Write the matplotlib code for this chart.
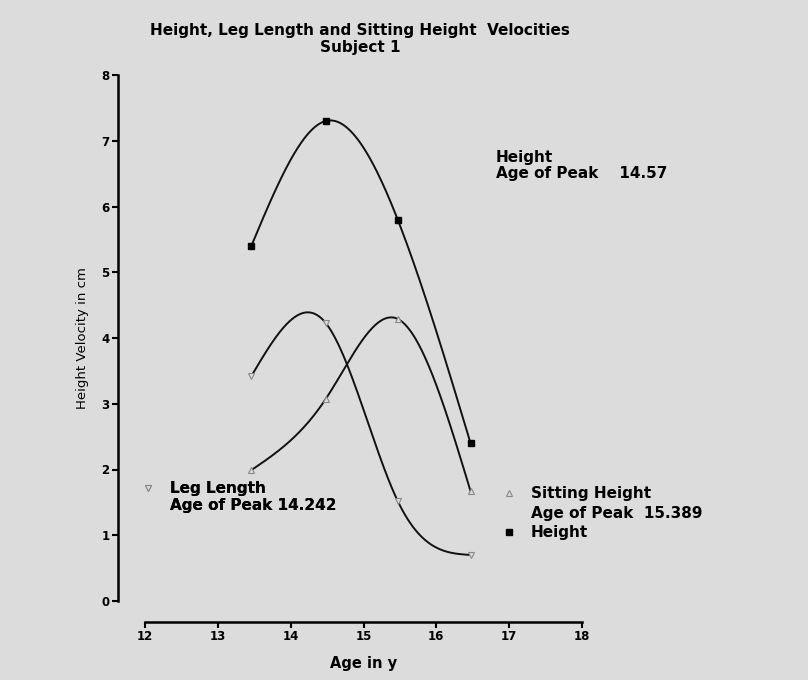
import numpy as np
import matplotlib
matplotlib.use("Agg")
import matplotlib.pyplot as plt
from matplotlib.lines import Line2D

plt.rcParams['font.family'] = ['DejaVu Sans']
plt.rcParams['font.weight'] = 'bold'

# data
age = [13.46, 14.48, 15.47, 16.47]
height_vel = [5.4, 7.3, 5.8, 2.4]
leg_vel = [3.42, 4.23, 1.52, 0.70]
sit_vel = [1.99, 3.07, 4.29, 1.67]

title = "Height, Leg Length and Sitting Height  Velocities\nSubject 1"
bg = '#dcdcdc'


def natural_spline(x, y, xs):
    # natural cubic spline (second derivative 0 at both ends)
    x = np.asarray(x, float)
    y = np.asarray(y, float)
    n = len(x)
    h = np.diff(x)
    d = np.diff(y) / h
    A = np.zeros((n, n))
    r = np.zeros(n)
    A[0, 0] = A[-1, -1] = 1
    for i in range(1, n - 1):
        A[i, i - 1] = h[i - 1]
        A[i, i] = 2 * (h[i - 1] + h[i])
        A[i, i + 1] = h[i]
        r[i] = 6 * (d[i] - d[i - 1])
    M = np.linalg.solve(A, r)
    idx = np.clip(np.searchsorted(x, xs) - 1, 0, n - 2)
    x0, x1, hh = x[idx], x[idx + 1], h[idx]
    a, b = x1 - xs, xs - x0
    return (M[idx] * a**3 / (6 * hh) + M[idx + 1] * b**3 / (6 * hh)
            + (y[idx] / hh - M[idx] * hh / 6) * a
            + (y[idx + 1] / hh - M[idx + 1] * hh / 6) * b)


fig = plt.figure(figsize=(8.08, 6.8), dpi=100, facecolor=bg)
ax = fig.add_axes([145/808, 79/680, 437/808, 526/680])
ax.set_facecolor('none')

xs = np.linspace(min(age), max(age), 300)
for vals in (height_vel, leg_vel, sit_vel):
    ax.plot(xs, natural_spline(age, vals, xs), color='#111111', lw=1.4, zorder=2)

ax.plot(age, height_vel, ls='none', marker='s', ms=4.5, color='black', zorder=3)
ax.plot(age, leg_vel, ls='none', marker='v', ms=4.5, mfc=bg, mec='#888888', mew=0.8, zorder=3)
ax.plot(age, sit_vel, ls='none', marker='^', ms=4.5, mfc=bg, mec='#888888', mew=0.8, zorder=3)

ax.set_xlim(12, 18)
ax.set_ylim(0, 8)
ax.set_xticks(range(12, 19))
ax.set_yticks(range(0, 9))
for s in ('top', 'right'):
    ax.spines[s].set_visible(False)
ax.spines['left'].set_position(('outward', 19.5))
ax.spines['bottom'].set_position(('outward', 15))
ax.spines['left'].set_bounds(0, 8)
ax.spines['bottom'].set_bounds(12, 18)
ax.spines['left'].set_linewidth(1.8)
ax.spines['bottom'].set_linewidth(1.8)
ax.tick_params(axis='both', width=1.5, length=4, labelsize=8.5, pad=2)

ax.set_xlabel("Age in y", fontsize=10.5, fontweight='bold', labelpad=9)
ax.set_ylabel("Height Velocity in cm", fontsize=9.5, fontweight='normal', labelpad=9)

fig.text(360/808, 1 - 23/680, title, ha='center', va='top', fontsize=11,
         fontweight='bold', linespacing=1.15)

fig.text(496/808, 1 - 150/680, "Height\nAge of Peak    14.57", ha='left', va='top',
         fontsize=11, fontweight='bold', linespacing=1.1)

h_leg = Line2D([], [], ls='none', marker='v', ms=4.5, mfc=bg, mec='#888888', mew=0.8)
h_sit = Line2D([], [], ls='none', marker='^', ms=4.5, mfc=bg, mec='#888888', mew=0.8)
h_hgt = Line2D([], [], ls='none', marker='s', ms=4.5, color='black')
h_none = Line2D([], [], ls='none')

leg1 = fig.legend([h_leg, h_none], ["Leg Length", "Age of Peak 14.242"],
                  loc='upper left', bbox_to_anchor=(140/808, 1 - 481/680),
                  frameon=False, fontsize=11, handlelength=1.0, handletextpad=0.95,
                  labelspacing=0.1, borderpad=0, borderaxespad=0)
fig.add_artist(leg1)
fig.legend([h_sit, h_none, h_hgt], ["Sitting Height", "Age of Peak  15.389", "Height"],
           loc='upper left', bbox_to_anchor=(501/808, 1 - 486/680),
           frameon=False, fontsize=11, handlelength=1.0, handletextpad=0.95,
           labelspacing=0.3, borderpad=0, borderaxespad=0)

fig.savefig("out.png", dpi=100, facecolor=bg)
